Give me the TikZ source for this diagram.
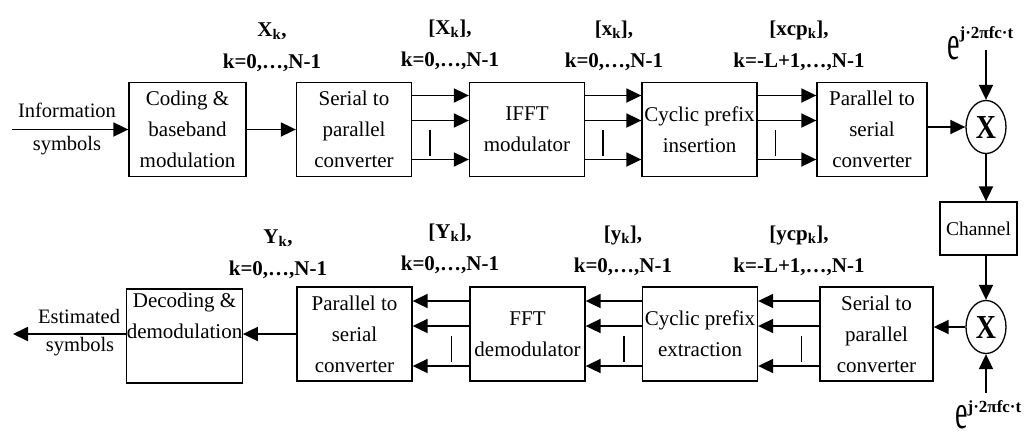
\documentclass[tikz,border=0pt]{standalone}
\usepackage{fontspec}
\setmainfont{Liberation Serif}
\usetikzlibrary{arrows.meta,shapes.geometric,calc}

\tikzset{
  blk/.style={draw, line width=1.3pt, minimum width=115pt, minimum height=94pt,
    inner sep=0pt, align=center, font=\fontsize{21}{31}\selectfont},
  lab/.style={align=center, inner sep=0pt, font=\bfseries\fontsize{21}{32}\selectfont},
  txt/.style={inner sep=0pt, font=\fontsize{20.5}{24}\selectfont},
  sig/.style={line width=1.8pt, -{Triangle[length=15pt,width=14pt]}},
  dotbar/.style={line width=1.4pt},
  mix/.style={draw, ellipse, line width=1.3pt, minimum width=40pt, minimum height=53pt,
    inner sep=0pt, font=\bfseries\fontsize{28}{28}\selectfont},
  carrier/.style={anchor=base west, inner sep=0pt},
}

\newcommand{\carrierexp}[1]{\scalebox{1}[1.75]{\fontsize{28}{28}\selectfont e}\raisebox{#1}{\bfseries\fontsize{17}{17}\selectfont j·2πfc·t}}

\begin{document}
\begin{tikzpicture}[x=1pt, y=-1pt]
  \useasboundingbox (0,0) rectangle (1034,440);
  \fill[white] (0,0) rectangle (1034,440);

  % transmitter chain
  \node[blk, minimum width=117pt] (cod) at (187.5,129.5) {Coding \&\\baseband\\modulation};
  \node[blk] (sp1)  at (354,129.5)   {Serial to\\parallel\\converter};
  \node[blk] (ifft) at (527,129.5)   {IFFT\\modulator};
  \node[blk] (cpi)  at (699.5,129.5) {Cyclic prefix\\insertion};
  \node[blk, minimum width=110pt] (ps1) at (872,129.5) {Parallel to\\serial\\converter};

  % mixers and channel
  \node[mix] (mix1) at (986,127) {\scalebox{1}[1.2]{X}};
  \node[blk, minimum width=77pt, minimum height=53pt, font=\fontsize{19.5}{24}\selectfont] (chan) at (978.5,228.5) {Channel};
  \node[mix] (mix2) at (986,327) {\scalebox{1}[1.2]{X}};

  % receiver chain
  \node[blk, minimum width=113pt] (sp2) at (876.5,334) {Serial to\\parallel\\converter};
  \node[blk] (cpe)  at (700,334)   {Cyclic prefix\\extraction};
  \node[blk] (fft)  at (527.5,334) {FFT\\demodulator};
  \node[blk] (ps2)  at (354.5,334) {Parallel to\\serial\\converter};
  \node[blk] (dec)  at (184.5,336) {Decoding \&\\demodulation\\\strut};

  % carrier terms
  \node[carrier] (ctop) at (947,59)  {\carrierexp{21pt}};
  \node[carrier] (cbot) at (955,428) {\carrierexp{16pt}};
  \coordinate (c1) at (986,50);
  \coordinate (c2) at (986,393);

  % input / output
  \coordinate (in0)  at (12,129.5);
  \coordinate (out0) at (13,334);
  \node[txt] (tinfo) at (67,110) {Information};
  \node[txt] (tsym1) at (67,146) {symbols};
  \node[txt] (test)  at (79,316) {Estimated};
  \node[txt] (tsym2) at (80,347) {symbols};

  % signal labels
  \node[lab] (lx1) at (272,47)  {X\textsubscript{k},\\k=0,…,N-1};
  \node[lab] (lx2) at (450,45)  {[X\textsubscript{k}],\\k=0,…,N-1};
  \node[lab] (lx3) at (614,46)  {[x\textsubscript{k}],\\k=0,…,N-1};
  \node[lab] (lx4) at (799,46)  {[xcp\textsubscript{k}],\\k=-L+1,…,N-1};
  \node[lab] (ly1) at (278,254) {Y\textsubscript{k},\\k=0,…,N-1};
  \node[lab] (ly2) at (450,249) {[Y\textsubscript{k}],\\k=0,…,N-1};
  \node[lab] (ly3) at (623,251) {[y\textsubscript{k}],\\k=0,…,N-1};
  \node[lab] (ly4) at (799,251) {[ycp\textsubscript{k}],\\k=-L+1,…,N-1};

  % serial connections
  \draw[sig] (in0) -- (cod.west);
  \draw[sig] (cod.east) -- (sp1.west);
  \draw[sig] (ps1.east |- mix1.west) -- (mix1.west);
  \draw[sig] (c1) -- (mix1.north);
  \draw[sig] (mix1.south) -- (mix1.south |- chan.north);
  \draw[sig] (mix2.north |- chan.south) -- (mix2.north);
  \draw[sig] (c2) -- (mix2.south);
  \draw[sig] (mix2.west) -- (mix2.west -| sp2.east);
  \draw[sig] (ps2.west) -- (ps2.west -| dec.east);
  \draw[sig] (out0 -| dec.west) -- (out0);

  % parallel connections, transmitter
  \foreach \a/\b in {sp1/ifft, ifft/cpi, cpi/ps1} {
    \foreach \dy in {-34,-9,30}
      \draw[sig] ($(\a.east)+(0,\dy)$) -- ($(\b.west)+(0,\dy)$);
    \draw[dotbar] ($(\a.east)+(18,0)$) -- ($(\a.east)+(18,26)$);
  }

  % parallel connections, receiver
  \foreach \a/\b in {sp2/cpe, cpe/fft, fft/ps2} {
    \foreach \dy in {-33,-8,32}
      \draw[sig] ($(\a.west)+(0,\dy)$) -- ($(\b.east)+(0,\dy)$);
    \draw[dotbar] ($(\a.west)+(-18,2)$) -- ($(\a.west)+(-18,28)$);
  }
\end{tikzpicture}
\end{document}
